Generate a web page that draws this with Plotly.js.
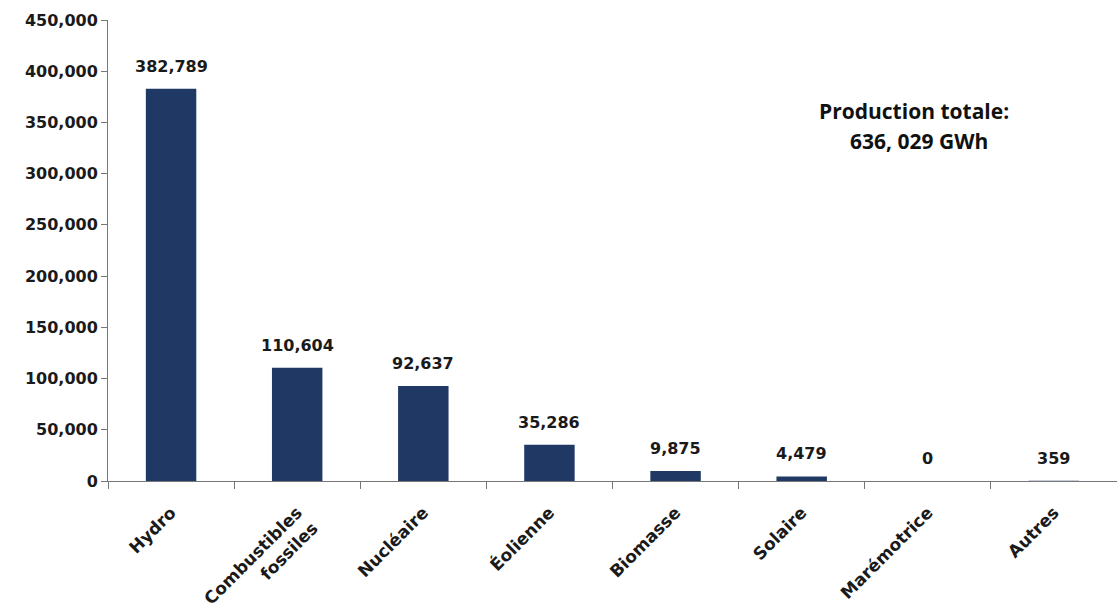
<!DOCTYPE html>
<html>
<head>
<meta charset="utf-8">
<script src="https://cdn.plot.ly/plotly-3.0.1.min.js"></script>
<style>html,body{margin:0;padding:0;background:#fff;}#chart{width:1117px;height:610px;}</style>
</head>
<body>
<div id="chart"></div>
<script>
var categories = ["Hydro", "Combustibles<br>fossiles", "Nucléaire", "Éolienne", "Biomasse", "Solaire", "Marémotrice", "Autres"];
var values = [382789, 110604, 92637, 35286, 9875, 4479, 0, 359];
var valueLabels = ["382,789", "110,604", "92,637", "35,286", "9,875", "4,479", "0", "359"];
var yTickVals = [0, 50000, 100000, 150000, 200000, 250000, 300000, 350000, 400000, 450000];
var yTickText = ["0", "50,000", "100,000", "150,000", "200,000", "250,000", "300,000", "350,000", "400,000", "450,000"];
var totalLine1 = "Production totale:";
var totalLine2 = "636, 029 GWh";

var tickFont = {family: "DejaVu Sans", size: 16, color: "#1a1a1a", weight: "bold"};
var xTickFont = {family: "DejaVu Sans", size: 17, color: "#1a1a1a", weight: "bold"};
var noteFont = {family: "Open Sans", size: 21, color: "#111", weight: "bold"};

var trace = {
  type: "bar",
  x: categories,
  y: values,
  width: 0.4,
  marker: {color: "#1F3864", line: {width: 0}},
  hoverinfo: "skip"
};

var annotations = categories.map(function (c, i) {
  return {
    x: c, y: values[i], xref: "x", yref: "y",
    text: valueLabels[i], showarrow: false,
    yanchor: "bottom", yshift: 11,
    font: tickFont
  };
});
annotations.push({
  xref: "paper", yref: "paper",
  x: (914 - 108) / 1009, y: (481 - 111) / 461,
  text: totalLine1, showarrow: false,
  xanchor: "center", yanchor: "middle",
  font: noteFont
});
annotations.push({
  xref: "paper", yref: "paper",
  x: (919 - 108) / 1009, y: (481 - 141) / 461,
  text: totalLine2, showarrow: false,
  xanchor: "center", yanchor: "middle",
  font: noteFont
});

var layout = {
  width: 1117, height: 610,
  margin: {l: 108, r: 0, t: 20, b: 129},
  paper_bgcolor: "#fff", plot_bgcolor: "#fff",
  showlegend: false,
  xaxis: {
    type: "category",
    tickson: "boundaries",
    ticks: "outside", ticklen: 7, tickcolor: "#777", tickwidth: 1,
    showline: true, linecolor: "#777", linewidth: 1,
    showgrid: false, zeroline: false,
    tickangle: -45,
    ticklabelstandoff: 14,
    tickfont: xTickFont
  },
  yaxis: {
    range: [0, 450000],
    tickvals: yTickVals, ticktext: yTickText,
    ticks: "outside", ticklen: 6, tickcolor: "#777", tickwidth: 1,
    showline: true, linecolor: "#777", linewidth: 1,
    showgrid: false, zeroline: false,
    tickfont: tickFont
  },
  annotations: annotations
};

Plotly.newPlot("chart", [trace], layout, {staticPlot: true, displayModeBar: false});
</script>
</body>
</html>
